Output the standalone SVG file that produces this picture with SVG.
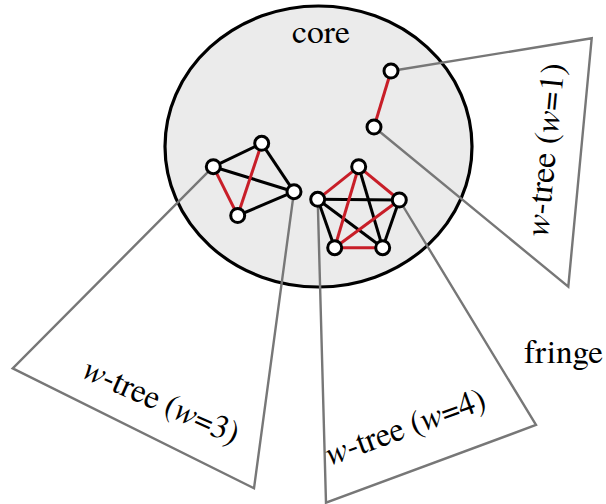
<svg xmlns="http://www.w3.org/2000/svg" width="606" height="504" viewBox="0 0 606 504">
<style>
  text { font-family: 'Nimbus Roman', 'Nimbus Roman No9 L', 'TeX Gyre Termes', FreeSerif, 'Noto Serif', 'DejaVu Serif', serif; font-size: 34px; fill: #000; }
  .it { font-style: italic; }
  .tri { fill: none; stroke: #777; stroke-width: 2.4; stroke-linejoin: miter; }
  .e { stroke: #000; stroke-width: 3; }
  .r { stroke: #c81e28; stroke-width: 3; }
  .n { fill: #fff; stroke: #000; stroke-width: 3; }
</style>
<rect width="606" height="504" fill="#fff"/>
<g id="core">
  <ellipse cx="318.5" cy="146.5" rx="153.5" ry="140.5" fill="#ebebeb" stroke="#000" stroke-width="3.2"/>
  <text x="321" y="43" text-anchor="middle" textLength="58" lengthAdjust="spacingAndGlyphs">core</text>
</g>
<g id="fringe">
  <text x="524" y="363" textLength="79" lengthAdjust="spacingAndGlyphs">fringe</text>
</g>
<g id="wtree1">
  <polyline class="tri" points="391,71 591.7,38.3 568.3,286.7 374,127"/>
  <text text-anchor="middle" transform="translate(556,151) rotate(-84.5)" textLength="174" lengthAdjust="spacingAndGlyphs"><tspan class="it">w</tspan>-tree (<tspan class="it">w</tspan>=1)</text>
</g>
<g id="wtree3">
  <polyline class="tri" points="213.3,166.7 12.7,368.3 254,488.3 294,191.7"/>
  <text text-anchor="middle" transform="translate(157,411) rotate(24)" textLength="167" lengthAdjust="spacingAndGlyphs"><tspan class="it">w</tspan>-tree (<tspan class="it">w</tspan>=3)</text>
</g>
<g id="wtree4">
  <polyline class="tri" points="317.7,199.3 326,502.7 536,425 399.3,200"/>
  <text text-anchor="middle" transform="translate(409,437) rotate(-20)" textLength="168" lengthAdjust="spacingAndGlyphs"><tspan class="it">w</tspan>-tree (<tspan class="it">w</tspan>=4)</text>
</g>
<g id="connectors">
  <line class="r" x1="391" y1="71" x2="374" y2="127"/>
  <line class="e" x1="261.7" y1="143.3" x2="213.3" y2="166.7"/>
  <line class="e" x1="261.7" y1="143.3" x2="294" y2="191.7"/>
  <line class="e" x1="213.3" y1="166.7" x2="294" y2="191.7"/>
  <line class="e" x1="294" y1="191.7" x2="237.7" y2="215.5"/>
  <line class="r" x1="213.3" y1="166.7" x2="237.7" y2="215.5"/>
  <line class="r" x1="261.7" y1="143.3" x2="237.7" y2="215.5"/>
  <line class="e" x1="358.7" y1="166.7" x2="382.7" y2="247.7"/>
  <line class="e" x1="317.7" y1="199.3" x2="399.3" y2="200"/>
  <line class="e" x1="317.7" y1="199.3" x2="382.7" y2="247.7"/>
  <line class="e" x1="317.7" y1="199.3" x2="334.7" y2="247.7"/>
  <line class="e" x1="399.3" y1="200" x2="382.7" y2="247.7"/>
  <line class="r" x1="358.7" y1="166.7" x2="317.7" y2="199.3"/>
  <line class="r" x1="358.7" y1="166.7" x2="399.3" y2="200"/>
  <line class="r" x1="358.7" y1="166.7" x2="334.7" y2="247.7"/>
  <line class="r" x1="399.3" y1="200" x2="334.7" y2="247.7"/>
  <line class="r" x1="334.7" y1="247.7" x2="382.7" y2="247.7"/>
</g>
<g id="n1"><circle class="n" cx="391" cy="71" r="7"/></g>
<g id="n2"><circle class="n" cx="374" cy="127" r="7"/></g>
<g id="n3"><circle class="n" cx="261.7" cy="143.3" r="7"/></g>
<g id="n4"><circle class="n" cx="213.3" cy="166.7" r="7"/></g>
<g id="n5"><circle class="n" cx="294" cy="191.7" r="7"/></g>
<g id="n6"><circle class="n" cx="237.7" cy="215.5" r="7"/></g>
<g id="n7"><circle class="n" cx="358.7" cy="166.7" r="7"/></g>
<g id="n8"><circle class="n" cx="317.7" cy="199.3" r="7"/></g>
<g id="n9"><circle class="n" cx="399.3" cy="200" r="7"/></g>
<g id="n10"><circle class="n" cx="334.7" cy="247.7" r="7"/></g>
<g id="n11"><circle class="n" cx="382.7" cy="247.7" r="7"/></g>
</svg>
